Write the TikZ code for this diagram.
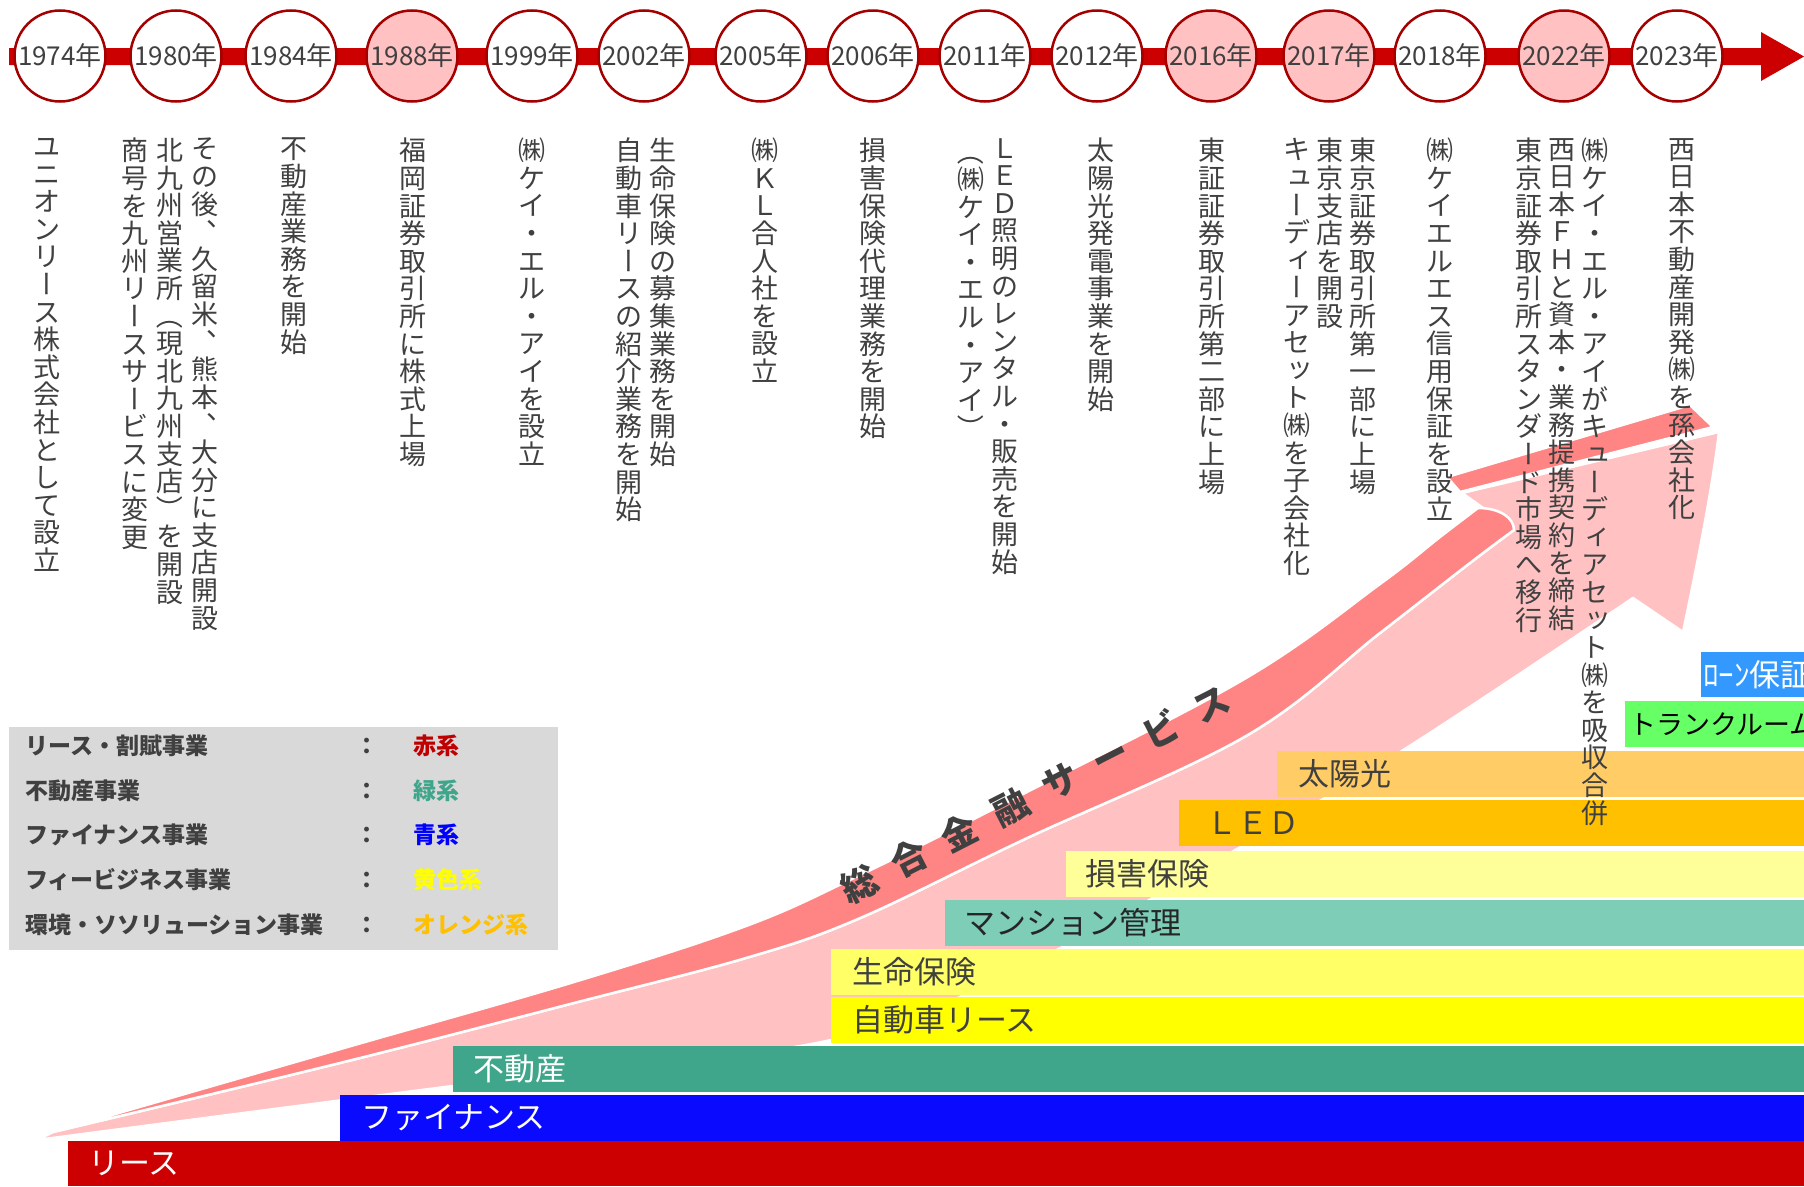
\documentclass[tikz,border=0pt]{standalone}
\usepackage{fontspec}
\usepackage{graphicx}
\setmainfont{Noto Sans CJK JP}

\definecolor{tlred}{HTML}{CC0000}
\definecolor{ringred}{HTML}{A50000}
\definecolor{hlpink}{HTML}{FFC1C1}
\definecolor{txtgray}{HTML}{404040}
\definecolor{swdark}{HTML}{FF8585}
\definecolor{swlight}{HTML}{FFC1C1}
\definecolor{legbg}{HTML}{D9D9D9}
\definecolor{legred}{HTML}{C00000}
\definecolor{leasered}{HTML}{CC0000}
\definecolor{finblue}{HTML}{0A0AFF}
\definecolor{estgreen}{HTML}{3FA68B}
\definecolor{mansgreen}{HTML}{7DCDB7}
\definecolor{caryel}{HTML}{FFFF00}
\definecolor{lifeyel}{HTML}{FFFF66}
\definecolor{nonlifeyel}{HTML}{FFFF99}
\definecolor{ledorange}{HTML}{FFC000}
\definecolor{solarorange}{HTML}{FFCC66}
\definecolor{trunkgreen}{HTML}{66FF66}
\definecolor{loanblue}{HTML}{3399FF}

% vertical text, one character per line
\newcommand\vtend{vtend}
\def\vtaux#1{\ifx\vtend#1\else\hbox to 1em{\hss#1\hss}\expandafter\vtaux\fi}
\newcommand\vcol[1]{\vbox{\baselineskip=27.6pt\lineskiplimit=-100pt\lineskip=0pt\vtaux#1\vtend}}
\newcommand\vcho{\rotatebox[origin=c]{-90}{\raisebox{0pt}[0.88em][0.12em]{ー}}}
\newcommand\vlp{\rotatebox[origin=c]{-90}{\raisebox{0pt}[0.88em][0.12em]{（}}}
\newcommand\vrp{\rotatebox[origin=c]{-90}{\raisebox{0pt}[0.88em][0.12em]{）}}}
\newcommand\vten{\rlap{\kern0.55em\raisebox{0.58em}{\makebox[0.4em][l]{、}}}\phantom{、}}
\newcommand\vsk[1]{\kern0.2em\raisebox{0.1em}{#1}}
\newcommand\sgap{\hspace{0.57em}}

\tikzset{
  year/.style={circle,draw=ringred,line width=2.5pt,fill=white,minimum size=91pt,
    inner sep=0pt,text=txtgray,font=\fontsize{26}{26}\selectfont},
  yearhl/.style={year,fill=hlpink},
  event/.style={anchor=north,inner sep=0pt,text=txtgray,font=\fontsize{27}{27.6}\selectfont},
  barlabel/.style={anchor=west,inner sep=0pt,text=txtgray,font=\fontsize{31}{31}\selectfont},
  legitem/.style={anchor=west,inner sep=0pt,text=txtgray,font=\bfseries\fontsize{23}{23}\selectfont},
  legcolon/.style={legitem,anchor=center},
  swoosh/.style={draw=white,line width=2.5pt,line join=round}
}

\begin{document}
\begin{tikzpicture}[x=1pt,y=-1pt]
  \useasboundingbox (0,0) rectangle (1804,1186);
  \clip (0,0) rectangle (1804,1186);

  % time line
  \coordinate (tlstart) at (9,56.5);
  \coordinate (tltip) at (1804,56.5);
  \fill[tlred] (tlstart) ++(0,-8.5) -- (1761,48) -- (1761,32) -- (tltip)
    -- (1761,81) -- (1761,65) -- (9,65) -- cycle;

  \node[year] (y1974) at (60,56) {1974年};
  \node[year] (y1980) at (176,56) {1980年};
  \node[year] (y1984) at (291,56) {1984年};
  \node[yearhl] (y1988) at (412,56) {1988年};
  \node[year] (y1999) at (532,56) {1999年};
  \node[year] (y2002) at (644,56) {2002年};
  \node[year] (y2005) at (761,56) {2005年};
  \node[year] (y2006) at (873,56) {2006年};
  \node[year] (y2011) at (985,56) {2011年};
  \node[year] (y2012) at (1097,56) {2012年};
  \node[yearhl] (y2016) at (1211,56) {2016年};
  \node[yearhl] (y2017) at (1329,56) {2017年};
  \node[year] (y2018) at (1440,56) {2018年};
  \node[yearhl] (y2022) at (1564,56) {2022年};
  \node[year] (y2023) at (1677,56) {2023年};

  % big arrow
  \filldraw[swoosh,fill=swlight] plot[smooth,tension=0.6] coordinates {(37,1140) (453,1086) (831,1040) (1040,958) (1230,853) (1408,747) (1633,598)}
    -- (1683,632) .. controls (1698,560) and (1712,490) .. (1719,432)
    -- (1462,493) -- (1514,530)
    -- plot[smooth,tension=0.6] coordinates {(1514,530) (1470,563) (1380,633) (1246,736) (1023,840) (858,919) (746,958) (574,1003) (344,1062) (53,1132)}
    -- cycle;
  \filldraw[swoosh,fill=swdark] plot[smooth,tension=0.6] coordinates {(53,1132) (344,1048) (574,982) (746,926) (858,876) (1023,794) (1246,678) (1380,584) (1440,537) (1478,508)}
    .. controls (1500,508) and (1514,518) .. (1514,530)
    -- plot[smooth,tension=0.6] coordinates {(1514,530) (1470,563) (1380,633) (1246,736) (1023,840) (858,919) (746,958) (574,1003) (344,1062) (53,1132)}
    -- cycle;
  \filldraw[swoosh,fill=swdark] (1447,477) -- (1690,405) -- (1713,427) -- (1460,492) -- cycle;

  % business bars
  \fill[leasered] (68,1141) rectangle (1804,1186);
  \node[barlabel,text=white] (lease) at (88,1163.5) {リース};
  \fill[finblue] (340,1095) rectangle (1804,1141);
  \node[barlabel,text=white] (finance) at (361,1118) {ファイナンス};
  \fill[estgreen] (453,1046) rectangle (1804,1092);
  \node[barlabel,text=white] (estate) at (473,1069) {不動産};
  \fill[caryel] (831,997) rectangle (1804,1043);
  \node[barlabel] (carlease) at (852,1020) {自動車リース};
  \fill[lifeyel] (831,949) rectangle (1804,995);
  \node[barlabel] (lifeins) at (852,972) {生命保険};
  \fill[mansgreen] (945,900) rectangle (1804,946);
  \node[barlabel,text=black!85] (mansion) at (964,923) {マンション管理};
  \fill[nonlifeyel] (1066,851) rectangle (1804,897);
  \node[barlabel] (nonlife) at (1085,874) {損害保険};
  \fill[ledorange] (1179,800) rectangle (1804,846);
  \node[barlabel] (led) at (1206,823) {ＬＥＤ};
  \fill[solarorange] (1277,751) rectangle (1804,797);
  \node[barlabel] (solar) at (1298,774) {太陽光};
  \fill[trunkgreen] (1625,701) rectangle (1804,747);
  \node[barlabel,text=black,font=\fontsize{27}{27}\selectfont] (trunk) at (1629,724) {トランクルーム};
  \fill[loanblue] (1701,652) rectangle (1804,697);
  \node[barlabel,text=white] (loan) at (1703,674.5) {ﾛｰﾝ保証};

  \node[rotate=27,inner sep=0pt,text=txtgray,font=\bfseries\fontsize{36}{36}\selectfont] (svc) at (1035,794)
    {総\sgap 合\sgap 金\sgap 融\sgap サ\sgap ー\sgap ビ\sgap ス};

  % legend
  \fill[legbg] (9,727) rectangle (558,950);
  \node[legitem] (lg1) at (25,746) {リース・割賦事業};
  \node[legitem] (lg2) at (25,791) {不動産事業};
  \node[legitem] (lg3) at (25,835) {ファイナンス事業};
  \node[legitem] (lg4) at (25,880) {フィービジネス事業};
  \node[legitem] (lg5) at (25,925) {環境・ソソリューション事業};
  \node[legcolon] (lc1) at (367,746) {：};
  \node[legcolon] (lc2) at (367,791) {：};
  \node[legcolon] (lc3) at (367,835) {：};
  \node[legcolon] (lc4) at (367,880) {：};
  \node[legcolon] (lc5) at (367,925) {：};
  \node[legitem,text=legred] (lv1) at (413,746) {赤系};
  \node[legitem,text=estgreen] (lv2) at (413,791) {緑系};
  \node[legitem,text=blue] (lv3) at (413,835) {青系};
  \node[legitem,text=caryel] (lv4) at (413,880) {黄色系};
  \node[legitem,text=ledorange] (lv5) at (413,925) {オレンジ系};

  % events
  \node[event] (ev1974) at (47,138) {\vcol{ユニオンリ\vcho ス株式会社として設立}};
  \node[event] (ev1980a) at (205,138) {\vcol{その後\vten 久留米\vten 熊本\vten 大分に支店開設}};
  \node[event] (ev1980b) at (170,138) {\vcol{北九州営業所\vlp 現北九州支店\vrp を開設}};
  \node[event] (ev1980c) at (135,138) {\vcol{商号を九州リ\vcho スサ\vcho ビスに変更}};
  \node[event] (ev1984) at (294,138) {\vcol{不動産業務を開始}};
  \node[event] (ev1988) at (413,138) {\vcol{福岡証券取引所に株式上場}};
  \node[event] (ev1999) at (532,138) {\vcol{㈱ケイ・エル・アイを設立}};
  \node[event] (ev2002a) at (663,138) {\vcol{生命保険の募集業務を開始}};
  \node[event] (ev2002b) at (629,138) {\vcol{自動車リ\vcho スの紹介業務を開始}};
  \node[event] (ev2005) at (765,138) {\vcol{㈱ＫＬ合人社を設立}};
  \node[event] (ev2006) at (873,138) {\vcol{損害保険代理業務を開始}};
  \node[event] (ev2011a) at (1005,138) {\vcol{ＬＥＤ照明のレンタル・販売を開始}};
  \node[event] (ev2011b) at (971,138) {\vcol{\vlp ㈱ケイ・エル・アイ\vrp}};
  \node[event] (ev2012) at (1101,138) {\vcol{太陽光発電事業を開始}};
  \node[event] (ev2016) at (1212,138) {\vcol{東証証券取引所第二部に上場}};
  \node[event] (ev2017a) at (1363,138) {\vcol{東京証券取引所第一部に上場}};
  \node[event] (ev2017b) at (1330,138) {\vcol{東京支店を開設}};
  \node[event] (ev2017c) at (1297,138) {\vcol{キ{\vsk ュ}\vcho デ{\vsk ィ}\vcho アセ{\vsk ッ}ト㈱を子会社化}};
  \node[event] (ev2018) at (1440,138) {\vcol{㈱ケイエルエス信用保証を設立}};
  \node[event] (ev2022a) at (1595,138) {\vcol{㈱ケイ・エル・アイがキ{\vsk ュ}\vcho デ{\vsk ィ}アセ{\vsk ッ}ト㈱を吸収合併}};
  \node[event] (ev2022b) at (1562,138) {\vcol{西日本ＦＨと資本・業務提携契約を締結}};
  \node[event] (ev2022c) at (1529,138) {\vcol{東京証券取引所スタンダ\vcho ド市場へ移行}};
  \node[event] (ev2023) at (1682,138) {\vcol{西日本不動産開発㈱を孫会社化}};
\end{tikzpicture}
\end{document}
